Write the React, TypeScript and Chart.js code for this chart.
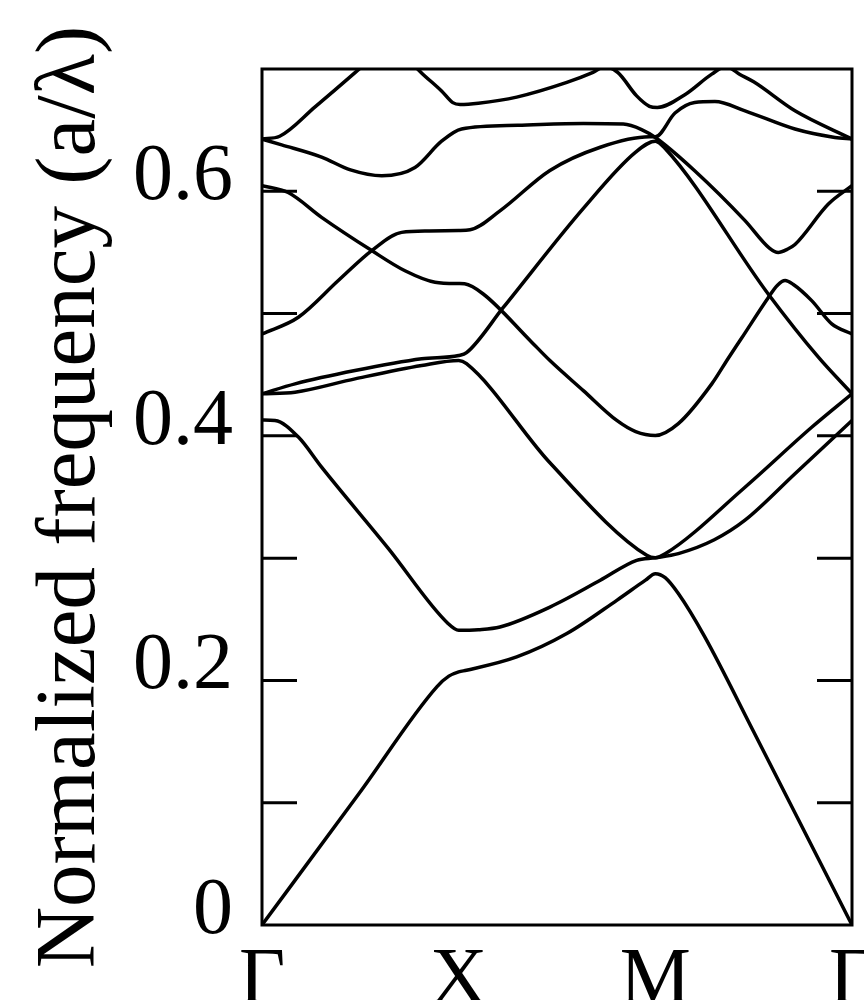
import React, { useEffect, useRef } from 'react';
import { Chart, registerables } from 'chart.js';

Chart.register(...registerables);

// k-path positions and labels
const kPositions = [0, 1, 2, 3];
const kLabels = ['Γ', 'X', 'M', 'Γ'];

// y ticks (normalized frequency a/λ)
const yTickValues = [0, 0.1, 0.2, 0.3, 0.4, 0.5, 0.6, 0.7];
const yTickLabels = ['0', '', '0.2', '', '0.4', '', '0.6', ''];

const yTitle = 'Normalized frequency (a/λ)';

// Bands: [k, frequency]
const band1 = [
  [0, 0], [0.5, 0.109], [0.89, 0.195], [0.95, 0.2035], [1.0, 0.207], [1.04, 0.2083],
  [1.295, 0.2192], [1.55, 0.2383], [1.804, 0.2655], [1.95, 0.282], [2.0, 0.2873],
  [2.05, 0.284], [2.117, 0.271], [2.25, 0.236], [2.5, 0.158], [3, 0],
];
const band2 = [
  [0, 0.413], [0.066, 0.4126], [0.185, 0.399], [0.303, 0.3744], [0.642, 0.308],
  [0.947, 0.2464], [1.0, 0.241], [1.1, 0.2415], [1.21, 0.2437], [1.464, 0.26],
  [1.72, 0.2819], [1.905, 0.2982], [2.0, 0.3003], [2.117, 0.3037], [2.3, 0.315],
  [2.456, 0.331], [2.71, 0.369], [3, 0.4126],
];
const band3 = [
  [0, 0.4344], [0.168, 0.4357], [0.473, 0.4466], [0.812, 0.4575], [1.0, 0.4616],
  [1.04, 0.459], [1.464, 0.378], [1.956, 0.3023], [2.0, 0.3003], [2.05, 0.3035],
  [2.456, 0.358], [2.795, 0.407], [3, 0.4344],
];
const band4 = [
  [0, 0.4344], [0.168, 0.4425], [0.473, 0.4534], [0.812, 0.463], [1.0, 0.4657],
  [1.04, 0.468], [1.227, 0.505], [1.634, 0.586], [1.9, 0.632], [2.0, 0.641],
  [2.05, 0.635], [2.574, 0.516], [2.829, 0.4643], [3, 0.4344],
];
const band5 = [
  [0, 0.4833], [0.185, 0.497], [0.388, 0.527], [0.558, 0.5515], [0.71, 0.5664],
  [0.85, 0.5675], [1.0, 0.568], [1.058, 0.5685], [1.21, 0.584], [1.464, 0.617],
  [1.72, 0.636], [1.97, 0.6445], [2.0, 0.6445], [2.1, 0.664], [2.2, 0.6726],
  [2.303, 0.6734], [2.456, 0.6658], [2.71, 0.6509], [2.913, 0.644], [3, 0.6427],
];
const band6 = [
  [0, 0.6046], [0.133, 0.599], [0.303, 0.5787], [0.558, 0.5515], [0.727, 0.535],
  [0.88, 0.5256], [1.0, 0.5245], [1.03, 0.5243], [1.125, 0.516], [1.363, 0.478],
  [1.464, 0.4616], [1.634, 0.437], [1.804, 0.4126], [1.9, 0.4035], [2.0, 0.4003],
  [2.117, 0.41], [2.287, 0.4425], [2.371, 0.4635], [2.439, 0.48], [2.574, 0.513],
  [2.62, 0.523], [2.66, 0.527], [2.7, 0.524], [2.795, 0.5106], [2.897, 0.4916], [3, 0.4833],
];
const band7 = [
  [0, 0.6427], [0.1, 0.638], [0.303, 0.628], [0.45, 0.6175], [0.609, 0.6127],
  [0.778, 0.6195], [0.913, 0.641], [1.015, 0.651], [1.3, 0.654], [1.634, 0.6555],
  [1.837, 0.655], [1.93, 0.6505], [2.0, 0.644], [2.2, 0.6168], [2.456, 0.576],
  [2.58, 0.5535], [2.625, 0.55], [2.67, 0.5525], [2.71, 0.5565], [2.88, 0.5896], [3, 0.6046],
];
const band8 = [
  [0, 0.6427], [0.09, 0.645], [0.27, 0.669], [0.473, 0.697], [0.62, 0.718],
];
const band9 = [
  [0.62, 0.728], [0.81, 0.697], [0.913, 0.682], [0.97, 0.6725], [1.007, 0.671],
  [1.1, 0.672], [1.295, 0.677], [1.55, 0.689], [1.68, 0.697], [1.745, 0.702],
  [1.81, 0.697], [1.905, 0.678], [1.97, 0.6695], [2.01, 0.6685], [2.15, 0.679],
  [2.287, 0.6958], [2.36, 0.702], [2.43, 0.6955], [2.5, 0.6895], [2.71, 0.6658], [3, 0.6427],
];

const bands = [band1, band2, band3, band4, band5, band6, band7, band8, band9];

const FONT = '"Liberation Serif", "Times New Roman", serif';

export default function App() {
  const ref = useRef<HTMLCanvasElement>(null);

  useEffect(() => {
    document.body.style.margin = '0';
    const canvas = ref.current;
    if (!canvas) return;

    const framePlugin = {
      id: 'frame',
      afterDatasetsDraw(chart: any) {
        const { ctx, chartArea: a, scales } = chart;
        const y = scales.y;
        ctx.save();
        ctx.strokeStyle = '#000';
        ctx.lineWidth = 3;
        ctx.beginPath();
        yTickValues.forEach((v) => {
          if (v <= 0 || v >= 0.7) return;
          const py = y.getPixelForValue(v);
          ctx.moveTo(a.left, py);
          ctx.lineTo(a.left + 35, py);
          ctx.moveTo(a.right, py);
          ctx.lineTo(a.right - 35, py);
        });
        ctx.stroke();
        ctx.strokeRect(a.left, a.top, a.right - a.left, a.bottom - a.top);
        ctx.restore();
      },
    };

    const chart = new Chart(canvas, {
      type: 'line',
      data: {
        datasets: bands.map((b, i) => ({
          label: `band ${i + 1}`,
          data: b.map(([x, y]) => ({ x, y })),
          borderColor: '#000',
          borderWidth: 3.5,
          pointRadius: 0,
          fill: false,
          cubicInterpolationMode: 'monotone' as const,
        })),
      },
      options: {
        responsive: false,
        animation: false,
        devicePixelRatio: 1,
        layout: { padding: { left: 0, right: 12, top: 69, bottom: 0 } },
        plugins: { legend: { display: false }, tooltip: { enabled: false } },
        scales: {
          x: {
            type: 'linear',
            min: 0,
            max: 3,
            grid: { display: false },
            border: { display: false },
            afterBuildTicks: (s: any) => {
              s.ticks = kPositions.map((v) => ({ value: v }));
            },
            ticks: {
              autoSkip: false,
              maxRotation: 0,
              minRotation: 0,
              padding: 1,
              color: '#000',
              font: { family: FONT, size: 80 },
              callback: (_v: any, i: number) => kLabels[i] ?? '',
            },
            afterFit: (s: any) => {
              s.height = 75;
              s.paddingLeft = 0;
              s.paddingRight = 0;
            },
          },
          y: {
            type: 'linear',
            min: 0,
            max: 0.7,
            grid: { display: false },
            border: { display: false },
            afterBuildTicks: (s: any) => {
              s.ticks = yTickValues.map((v) => ({ value: v }));
            },
            ticks: {
              autoSkip: false,
              padding: 21,
              labelOffset: -13,
              color: '#000',
              font: { family: FONT, size: 80 },
              callback: (_v: any, i: number) => yTickLabels[i] ?? '',
            },
            title: {
              display: true,
              text: yTitle,
              color: '#000',
              font: { family: FONT, size: 85 },
              padding: { top: 21, bottom: 0 },
            },
            afterFit: (s: any) => {
              s.width = 262;
              s.paddingTop = 0;
              s.paddingBottom = 0;
            },
          },
        },
      },
      plugins: [framePlugin],
    });

    return () => chart.destroy();
  }, []);

  return <canvas ref={ref} width={864} height={1000} style={{ display: 'block' }} />;
}
